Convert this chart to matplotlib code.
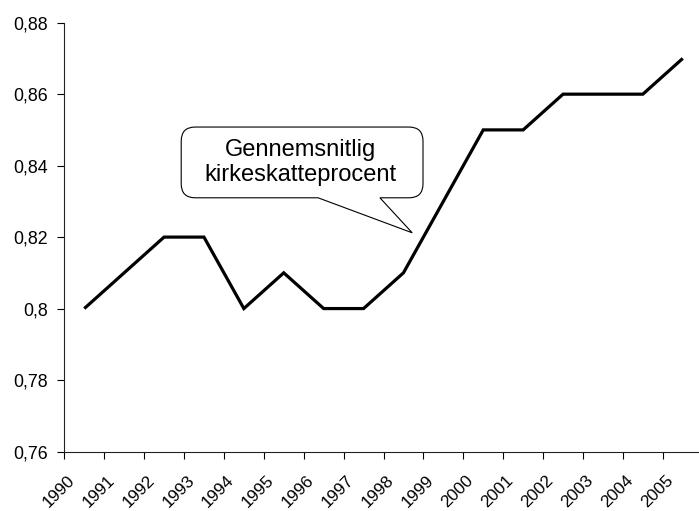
import matplotlib
matplotlib.use("Agg")
import matplotlib.pyplot as plt
import matplotlib.transforms as mtransforms
from matplotlib.path import Path
from matplotlib.patches import PathPatch
from matplotlib.ticker import FuncFormatter, MultipleLocator
import numpy as np

years = ["1990", "1991", "1992", "1993", "1994", "1995", "1996", "1997",
         "1998", "1999", "2000", "2001", "2002", "2003", "2004", "2005"]
rates = [0.80, 0.81, 0.82, 0.82, 0.80, 0.81, 0.80, 0.80,
         0.81, 0.83, 0.85, 0.85, 0.86, 0.86, 0.86, 0.87]
callout_text = "Gennemsnitlig\nkirkeskatteprocent"

plt.rcParams["font.family"] = ["Liberation Sans", "DejaVu Sans"]

fig = plt.figure(figsize=(6.99, 5.11), dpi=100)
# plot area runs a little past the right edge, as in the original
ax = fig.add_axes([64.3 / 699, 59.5 / 511, 638.4 / 699, 428.8 / 511])

x = np.arange(len(years))
ax.plot(x, rates, color="black", lw=2.3, solid_joinstyle="miter", solid_capstyle="butt")

ax.set_xlim(-0.5, len(years) - 0.5)
ax.set_ylim(0.76, 0.88)
ax.yaxis.set_major_locator(MultipleLocator(0.02))
ax.yaxis.set_major_formatter(FuncFormatter(lambda v, p: f"{v:.2f}".rstrip("0").replace(".", ",")))

# category boundaries get the tick marks, labels sit at the centres
ax.set_xticks(np.arange(len(years) + 1) - 0.5)
ax.set_xticklabels([])
ax.set_xticks(x, minor=True)
ax.set_xticklabels(years, minor=True, rotation=45, ha="right", va="center",
                   rotation_mode="anchor", fontsize=12.3)
ax.tick_params(axis="x", which="minor", length=0, pad=19)
ax.tick_params(axis="x", which="major", length=5, width=0.8, direction="out")
ax.tick_params(axis="y", length=5, width=0.8, pad=6.5, labelsize=12.8)
shift = mtransforms.ScaledTranslation(-0.12, 0.0, fig.dpi_scale_trans)
for lab in ax.get_xticklabels(minor=True):
    lab.set_transform(lab.get_transform() + shift)

for side in ["top", "right"]:
    ax.spines[side].set_visible(False)
for side in ["left", "bottom"]:
    ax.spines[side].set_linewidth(0.8)
    ax.spines[side].set_color("#222222")

# speech bubble
box_x = (2.43, 8.49)
box_y = (0.831, 0.8508)
ptr_x = (5.86, 7.41)
tip = (8.22, 0.8212)

fig.canvas.draw()
T = ax.transData
L, B = T.transform((box_x[0], box_y[0]))
R, Tp = T.transform((box_x[1], box_y[1]))
p1 = T.transform((ptr_x[0], box_y[0]))[0]
p2 = T.transform((ptr_x[1], box_y[0]))[0]
tx, ty = T.transform(tip)
r = 14
verts = [(L + r, Tp), (R - r, Tp), (R, Tp), (R, Tp - r), (R, B + r), (R, B), (R - r, B),
         (p2, B), (tx, ty), (p1, B), (L + r, B), (L, B), (L, B + r), (L, Tp - r),
         (L, Tp), (L + r, Tp), (L + r, Tp)]
codes = [Path.MOVETO, Path.LINETO, Path.CURVE3, Path.CURVE3, Path.LINETO, Path.CURVE3, Path.CURVE3,
         Path.LINETO, Path.LINETO, Path.LINETO, Path.LINETO, Path.CURVE3, Path.CURVE3, Path.LINETO,
         Path.CURVE3, Path.CURVE3, Path.CLOSEPOLY]
bubble = PathPatch(Path(verts, codes), facecolor="white", edgecolor="black", lw=0.8,
                   transform=mtransforms.IdentityTransform(), zorder=5)
fig.patches.append(bubble)
fig.text((L + R) / 2 / fig.dpi / 6.99 - 0.003, (B + Tp) / 2 / fig.dpi / 5.11, callout_text,
         ha="center", va="center", fontsize=17, zorder=6, linespacing=1.2)

fig.savefig("out.png", dpi=100)
